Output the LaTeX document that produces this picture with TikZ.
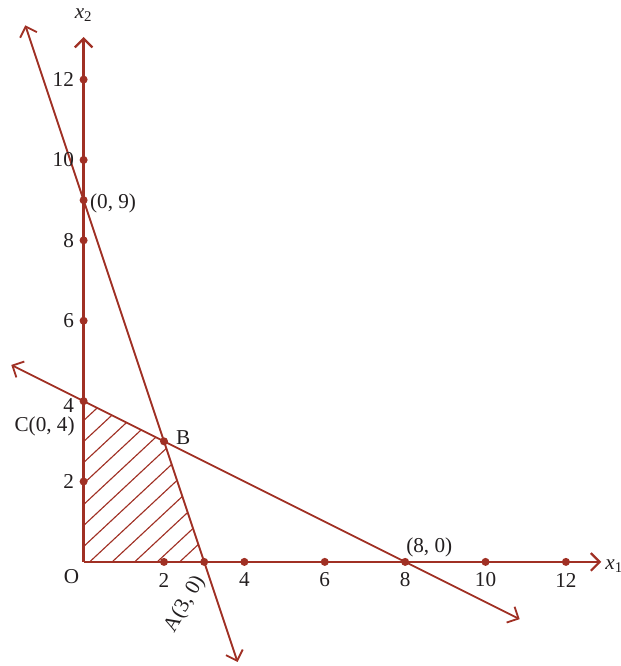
\documentclass[tikz,border=0pt]{standalone}
\usepackage{fontspec}
\setmainfont{Liberation Serif}
\usetikzlibrary{arrows.meta}
\definecolor{graphred}{RGB}{160,48,36}
\definecolor{textgray}{RGB}{35,31,32}

\begin{document}
\begin{tikzpicture}[
    font=\fontsize{15}{18}\selectfont,
    axis/.style={graphred, line width=1.6pt, -{Straight Barb[length=2.2mm,width=4.4mm]}},
    constraint/.style={graphred, line width=1.3pt,
                       {Straight Barb[length=2.2mm,width=4.4mm]}-{Straight Barb[length=2.2mm,width=4.4mm]}},
    hatchline/.style={graphred, line width=0.8pt},
    dot/.style={circle, fill=graphred, inner sep=0pt, minimum size=2mm},
    numtext/.style={text=textgray, inner sep=1pt}
]
    \useasboundingbox (-2.08,-2.59) rectangle (13.37,13.98);

    % corner points and line ends
    \coordinate (O) at (0,0);
    \coordinate (A) at (3,0);
    \coordinate (B) at (2,3);
    \coordinate (C) at (0,4);
    \coordinate (N) at (0,9);
    \coordinate (xend) at (12.88,0);
    \coordinate (yend) at (0,13.06);
    \coordinate (firsttop) at (-1.45,13.35);
    \coordinate (firstbot) at (3.83,-2.49);
    \coordinate (secondtop) at (-1.8,4.9);
    \coordinate (secondbot) at (10.85,-1.425);

    % feasible region
    \begin{scope}
        \clip (O) -- (A) -- (B) -- (C) -- cycle;
        \foreach \k in {-9,...,5}
            \draw[hatchline] ({0.15+0.56*\k},0) -- ++(43:9);
    \end{scope}

    \draw[axis] (O) -- (xend);
    \draw[axis] (O) -- (yend);
    \draw[constraint] (firsttop) -- (firstbot);
    \draw[constraint] (secondtop) -- (secondbot);

    % ticks
    \foreach \v in {2,4,...,12} {
        \node[dot] (xt\v) at (\v,0) {};
        \node[dot] (yt\v) at (0,\v) {};
        \node[numtext] (xl\v) at (\v,-0.45) {\v};
    }
    \foreach \v/\h in {2/2,4/3.9,6/6,8/8,10/10,12/12}
        \node[numtext, anchor=east] (yl\v) at (-0.2,\h) {\v};
    \node[dot] (Adot) at (A) {};
    \node[dot] (Bdot) at (B) {};
    \node[dot] (Ndot) at (N) {};

    % labels
    \node[numtext] (Olabel) at (-0.3,-0.37) {O};
    \node[numtext, rotate=60] (Alabel) at (2.52,-1.05) {A(3, 0)};
    \node[numtext] (Blabel) at (2.48,3.1) {B};
    \node[numtext] (Clabel) at (-0.97,3.36) {C(0, 4)};
    \node[numtext, anchor=west] (Nlabel) at (0.12,8.93) {(0, 9)};
    \node[numtext] (Elabel) at (8.6,0.37) {(8, 0)};
    \node[numtext] (xname) at (13.2,-0.1) {\textit{x}\textsubscript{1}};
    \node[numtext] (yname) at (0,13.6) {\textit{x}\textsubscript{2}};
\end{tikzpicture}
\end{document}
